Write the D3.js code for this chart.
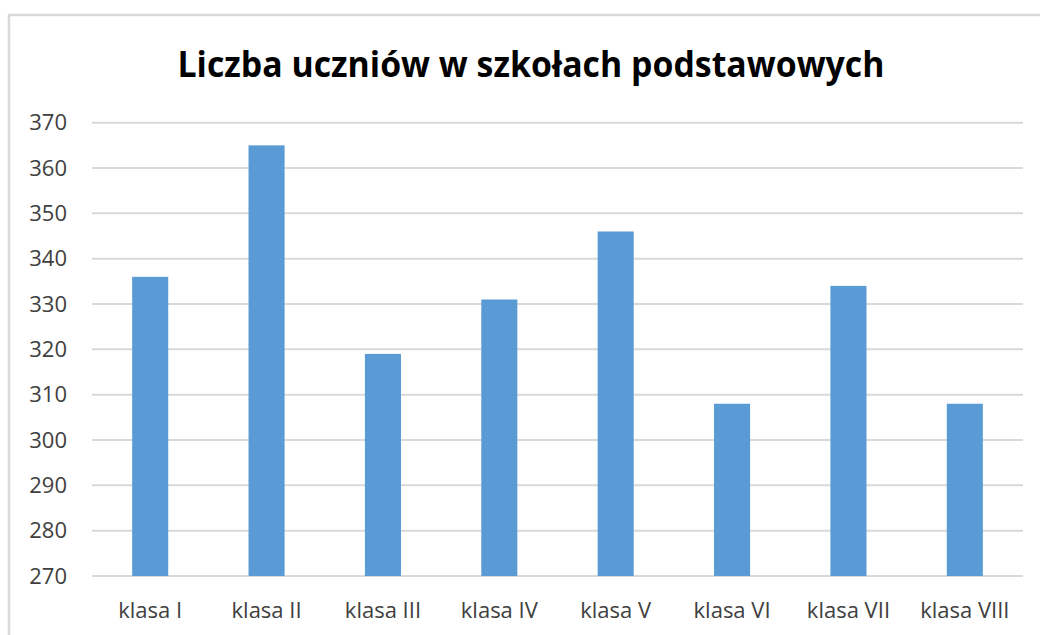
<!DOCTYPE html>
<html>
<head>
<meta charset="utf-8">
<script src="https://cdn.jsdelivr.net/npm/d3@7"></script>
<style>
  html, body { margin: 0; padding: 0; background: #fff; }
  svg { display: block; }
</style>
</head>
<body>
<div id="chart"></div>
<script>
// data
const title = 'Liczba uczniów w szkołach podstawowych';
const categories = ['klasa I', 'klasa II', 'klasa III', 'klasa IV', 'klasa V', 'klasa VI', 'klasa VII', 'klasa VIII'];
const values = [336, 365, 319, 331, 346, 308, 334, 308];
const yTicks = [270, 280, 290, 300, 310, 320, 330, 340, 350, 360, 370];

const width = 1040;
const height = 635;
const plot = {left: 92, right: 1023, top: 122.7, bottom: 576};

const svg = d3.select('#chart').append('svg')
    .attr('width', width)
    .attr('height', height);

// chart frame (only top + left edges visible in the crop)
svg.append('path')
    .attr('d', `M9,${height} L9,15 L${width},15`)
    .attr('fill', 'none')
    .attr('stroke', '#d9d9d9')
    .attr('stroke-width', 2.5);

svg.append('text')
    .attr('x', 531)
    .attr('y', 77)
    .attr('text-anchor', 'middle')
    .attr('font-family', 'Open Sans, sans-serif')
    .attr('font-weight', 'bold')
    .attr('font-size', 36)
    .attr('textLength', 707)
    .attr('lengthAdjust', 'spacingAndGlyphs')
    .attr('fill', '#000')
    .text(title);

const x = d3.scaleBand()
    .domain(categories)
    .range([plot.left, plot.right])
    .paddingInner(0.69)
    .paddingOuter(0.345);

const y = d3.scaleLinear()
    .domain([270, 370])
    .range([plot.bottom, plot.top]);

// gridlines
svg.append('g')
    .selectAll('line')
    .data(yTicks)
    .join('line')
    .attr('x1', plot.left)
    .attr('x2', plot.right)
    .attr('y1', d => y(d))
    .attr('y2', d => y(d))
    .attr('stroke', '#d9d9d9')
    .attr('stroke-width', 2);

// y axis labels
const yAxis = svg.append('g')
    .attr('transform', 'translate(67,0)')
    .call(d3.axisLeft(y).tickValues(yTicks).tickSize(0).tickPadding(0));
yAxis.select('.domain').remove();
yAxis.selectAll('text')
    .attr('font-family', 'Open Sans, sans-serif')
    .attr('font-size', 22)
    .attr('fill', '#404040');

// bars
svg.append('g')
    .selectAll('rect')
    .data(values)
    .join('rect')
    .attr('x', (d, i) => x(categories[i]))
    .attr('y', d => y(d))
    .attr('width', x.bandwidth())
    .attr('height', d => y(270) - y(d))
    .attr('fill', '#5b9bd5');

// x axis labels
const xAxis = svg.append('g')
    .attr('transform', `translate(0,${plot.bottom})`)
    .call(d3.axisBottom(x).tickSize(0).tickPadding(0));
xAxis.select('.domain').remove();
xAxis.selectAll('text')
    .attr('dy', null)
    .attr('y', 42)
    .attr('font-family', 'Open Sans, sans-serif')
    .attr('font-size', 22)
    .attr('fill', '#404040');
</script>
</body>
</html>
